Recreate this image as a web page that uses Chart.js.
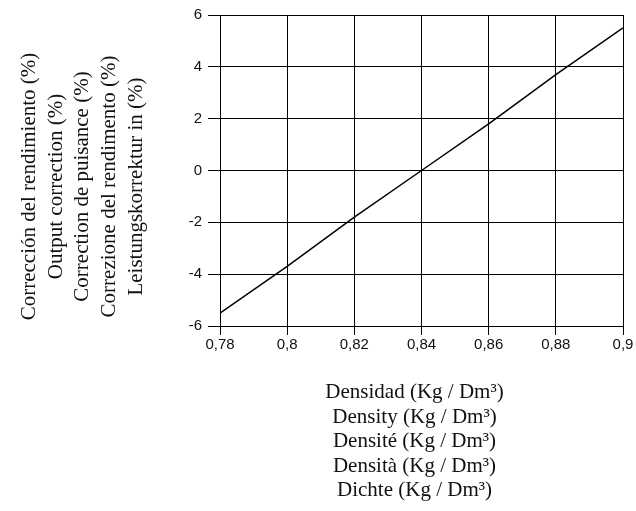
<!DOCTYPE html>
<html>
<head>
<meta charset="utf-8">
<script src="https://cdn.jsdelivr.net/npm/chart.js@4"></script>
<style>
  html, body { margin: 0; padding: 0; background: #fff; }
  #wrap { width: 636px; height: 511px; position: relative; }
</style>
</head>
<body>
<div id="wrap"><canvas id="densityChart"></canvas></div>
<script>
// Data
const densities = [0.78, 0.8, 0.82, 0.84, 0.86, 0.88, 0.9];
const corrections = [-5.5, -3.7, -1.8, 0, 1.8, 3.7, 5.5];
const yTitleLines = [
  'Corrección del rendimiento (%)',
  'Output correction (%)',
  'Correction de puisance (%)',
  'Correzione del rendimento (%)',
  'Leistungskorrektur in (%)'
];
const xTitleLines = [
  'Densidad (Kg / Dm³)',
  'Density (Kg / Dm³)',
  'Densité (Kg / Dm³)',
  'Densità (Kg / Dm³)',
  'Dichte (Kg / Dm³)'
];

// Multi-language axis titles, placed relative to the chart area
const axisTitles = {
  id: 'axisTitles',
  afterDraw(chart) {
    const { ctx, chartArea } = chart;
    ctx.save();
    ctx.fillStyle = '#111';
    ctx.font = '21px "Liberation Serif", "Times New Roman", serif';
    ctx.textAlign = 'center';
    ctx.textBaseline = 'alphabetic';

    // vertical title, read bottom to top
    const yMid = (chartArea.top + chartArea.bottom) / 2 + 16;
    yTitleLines.forEach((line, i) => {
      ctx.save();
      ctx.translate(chartArea.left - 185 + i * 26.7, yMid);
      ctx.rotate(-Math.PI / 2);
      ctx.fillText(line, 0, 0);
      ctx.restore();
    });

    // horizontal title below the axis
    const xMid = (chartArea.left + chartArea.right) / 2 - 7;
    xTitleLines.forEach((line, i) => {
      ctx.fillText(line, xMid, chartArea.bottom + 72.3 + i * 24.4);
    });
    ctx.restore();
  }
};

const ctx = document.getElementById('densityChart').getContext('2d');
const chart = new Chart(ctx, {
  type: 'line',
  data: {
    datasets: [{
      data: densities.map((d, i) => ({ x: d, y: corrections[i] })),
      borderColor: '#000',
      borderWidth: 1.5,
      pointRadius: 0,
      tension: 0,
      fill: false
    }]
  },
  options: {
    responsive: true,
    maintainAspectRatio: false,
    animation: false,
    layout: { padding: { top: 14, right: 13, left: 0, bottom: 0 } },
    plugins: {
      legend: { display: false },
      tooltip: { enabled: false }
    },
    scales: {
      x: {
        type: 'linear',
        min: 0.78,
        max: 0.9,
        afterFit(scale) { scale.height = 185; },
        ticks: {
          stepSize: 0.02,
          padding: 1,
          color: '#111',
          font: { family: '"Liberation Sans", Arial, sans-serif', size: 15 },
          callback: v => parseFloat(v.toFixed(2)).toString().replace('.', ',')
        },
        grid: { color: '#000', lineWidth: 1, tickLength: 9 },
        border: { color: '#000', width: 1 }
      },
      y: {
        min: -6,
        max: 6,
        afterFit(scale) { scale.width = 220; },
        ticks: {
          stepSize: 2,
          padding: 6,
          color: '#111',
          font: { family: '"Liberation Sans", Arial, sans-serif', size: 15 }
        },
        grid: { color: '#000', lineWidth: 1, tickLength: 12 },
        border: { color: '#000', width: 1 }
      }
    }
  },
  plugins: [axisTitles]
});
</script>
</body>
</html>
